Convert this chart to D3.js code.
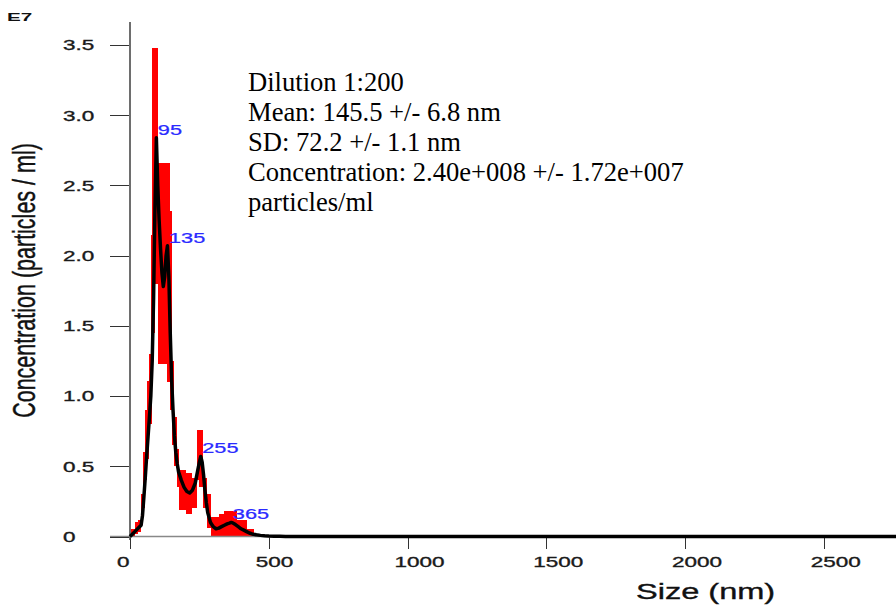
<!DOCTYPE html>
<html>
<head>
<meta charset="utf-8">
<script src="https://cdn.jsdelivr.net/npm/d3@7"></script>
<style>
  html, body { margin: 0; padding: 0; background: #fff; }
  svg { display: block; }
</style>
</head>
<body>
<svg id="chart" width="896" height="605"></svg>
<script>
// Averaged size distribution (black line): size in nm, concentration in units of 1e7 particles/ml
const sizeNm = [0, 10, 20, 30, 40, 45, 50, 55, 60, 65, 70, 75, 80, 85, 90, 95, 100, 105, 110, 115,
  120, 125, 130, 135, 140, 145, 150, 155, 160, 165, 170, 175, 185, 195, 205, 215, 225, 235, 243, 250,
  255, 260, 265, 270, 275, 280, 290, 300, 310, 320, 330, 340, 350, 358, 365, 372, 380, 390, 400, 410,
  420, 430, 440, 455, 470, 485, 500, 520, 540, 560, 1000, 1500, 2000, 2500, 2760];
const meanConc = [0, 0.02, 0.04, 0.06, 0.08, 0.15, 0.28, 0.42, 0.57, 0.71, 0.85, 1.0, 1.25, 1.7, 2.35, 2.84, 2.5, 2.25, 2.05, 1.88,
  1.78, 1.85, 2.0, 2.07, 1.85, 1.45, 1.12, 0.9, 0.72, 0.6, 0.52, 0.46, 0.4, 0.35, 0.32, 0.31, 0.33, 0.38, 0.46, 0.53,
  0.57, 0.53, 0.44, 0.33, 0.24, 0.17, 0.1, 0.07, 0.055, 0.06, 0.07, 0.08, 0.09, 0.095, 0.1, 0.095, 0.085, 0.07, 0.055, 0.045,
  0.035, 0.025, 0.018, 0.012, 0.008, 0.005, 0.003, 0.002, 0.001, 0, 0, 0, 0, 0, 0];

// Error bars (red): bin range in nm and low/high concentration (1e7 particles/ml)
const errFrom = [5, 18, 30, 40, 47, 55, 62, 68, 74, 80, 90, 102, 133, 145, 152, 160, 168, 178, 200, 222, 242, 250, 264, 276, 292, 320, 340, 385, 420, 445];
const errTo   = [18, 30, 40, 47, 55, 62, 68, 78, 80, 90, 102, 133, 145, 152, 160, 168, 178, 200, 222, 242, 250, 264, 276, 292, 320, 340, 385, 420, 445, 470];
const errLow  = [0, 0.02, 0.03, 0.08, 0.2, 0.4, 0.55, 0.8, 1.0, 1.45, 1.8, 1.23, 1.1, 0.9, 0.65, 0.5, 0.35, 0.19, 0.16, 0.2, 0.4, 0.35, 0.2, 0.06, 0, 0, 0, 0, 0, 0];
const errHigh = [0.05, 0.1, 0.12, 0.3, 0.6, 0.9, 1.11, 1.3, 2.15, 3.48, 3.48, 2.66, 2.66, 2.32, 1.25, 0.85, 0.62, 0.47, 0.45, 0.42, 0.755, 0.755, 0.42, 0.3, 0.14, 0.16, 0.185, 0.12, 0.05, 0.02];

// Labelled peak sizes (nm)
const peakSizes = [95, 135, 255, 365];

// Axis ticks
const xTicks = [0, 500, 1000, 1500, 2000, 2500];
const yTicks = [0, 0.5, 1.0, 1.5, 2.0, 2.5, 3.0, 3.5];
const yTickLabels = ["0", "0.5", "1.0", "1.5", "2.0", "2.5", "3.0", "3.5"];

// Summary text block
const infoLines = [
  "Dilution 1:200",
  "Mean: 145.5 +/- 6.8 nm",
  "SD: 72.2 +/- 1.1 nm",
  "Concentration: 2.40e+008 +/- 1.72e+007",
  "particles/ml"
];

const svg = d3.select("#chart");
const SANS = "'Liberation Sans', Arial, sans-serif";
const SERIF = "'Liberation Serif', 'Times New Roman', serif";
const WIDE = 1.5; // horizontal stretch used for the sans labels

const x = d3.scaleLinear().domain([0, 2760]).range([130, 896]);
const y = d3.scaleLinear().domain([0, 3.5]).range([536.5, 45]);

// Error bars
svg.append("g")
  .attr("shape-rendering", "crispEdges")
  .selectAll("rect")
  .data(errFrom.map((f, i) => ({ f, t: errTo[i], lo: errLow[i], hi: errHigh[i] })))
  .join("rect")
  .attr("x", d => x(d.f))
  .attr("width", d => x(d.t) - x(d.f))
  .attr("y", d => y(d.hi))
  .attr("height", d => y(d.lo) - y(d.hi))
  .attr("fill", "#ff0000");

// Axes lines
svg.append("line")
  .attr("x1", 110).attr("x2", 896)
  .attr("y1", y(0)).attr("y2", y(0))
  .attr("stroke", "#888").attr("stroke-width", 1.5);
svg.append("line")
  .attr("x1", x(0)).attr("x2", x(0))
  .attr("y1", 22).attr("y2", 540)
  .attr("stroke", "#6e6e6e").attr("stroke-width", 2);

// Y ticks
const yg = svg.append("g");
yg.selectAll("line")
  .data(yTicks)
  .join("line")
  .attr("x1", 110).attr("x2", x(0) - 1)
  .attr("y1", d => Math.round(y(d)) + 0.5).attr("y2", d => Math.round(y(d)) + 0.5)
  .attr("stroke", "#333").attr("stroke-width", 1);
yg.selectAll("text")
  .data(yTicks)
  .join("text")
  .attr("transform", d => `translate(63,${y(d) + 5.3}) scale(${WIDE},1)`)
  .attr("font-family", SANS).attr("font-size", 15)
  .attr("fill", "#1a1a1a").attr("stroke", "#1a1a1a").attr("stroke-width", 0.35)
  .text((d, i) => yTickLabels[i]);

// X ticks
const xg = svg.append("g");
xg.selectAll("line")
  .data(xTicks)
  .join("line")
  .attr("x1", d => Math.round(x(d)) + 0.5).attr("x2", d => Math.round(x(d)) + 0.5)
  .attr("y1", y(0) + 1).attr("y2", 549)
  .attr("stroke", "#333").attr("stroke-width", 1);
xg.selectAll("text")
  .data(xTicks)
  .join("text")
  .attr("transform", d => `translate(${x(d) - 13},567) scale(${WIDE},1)`)
  .attr("font-family", SANS).attr("font-size", 15)
  .attr("fill", "#1a1a1a").attr("stroke", "#1a1a1a").attr("stroke-width", 0.35)
  .text(d => d3.format("d")(d));

// Mean distribution line
const line = d3.line()
  .x(d => x(d[0]))
  .y(d => y(d[1]));
svg.append("path")
  .datum(sizeNm.map((s, i) => [s, meanConc[i]]))
  .attr("d", line)
  .attr("fill", "none")
  .attr("stroke", "#000")
  .attr("stroke-width", 3.5)
  .attr("stroke-linejoin", "round");

// Peak labels
const concAt = s => {
  const i = sizeNm.indexOf(s);
  if (i >= 0) return meanConc[i];
  const j = d3.bisectLeft(sizeNm, s);
  const t = (s - sizeNm[j - 1]) / (sizeNm[j] - sizeNm[j - 1]);
  return meanConc[j - 1] + t * (meanConc[j] - meanConc[j - 1]);
};
svg.append("g")
  .selectAll("text")
  .data(peakSizes)
  .join("text")
  .attr("transform", d => `translate(${x(d) + 1.5},${y(concAt(d)) - 3}) scale(1.45,1)`)
  .attr("font-family", SANS).attr("font-size", 15)
  .attr("fill", "#2a2aff").attr("stroke", "#2a2aff").attr("stroke-width", 0.25)
  .text(d => d);

// Summary text
svg.append("g")
  .selectAll("text")
  .data(infoLines)
  .join("text")
  .attr("x", 248)
  .attr("y", (d, i) => 90.5 + i * 30.2)
  .attr("font-family", SERIF).attr("font-size", 26.6)
  .attr("fill", "#000")
  .text(d => d);

// Axis titles
svg.append("text")
  .attr("transform", `translate(636,599) scale(1.48,1)`)
  .attr("font-family", SANS).attr("font-size", 22)
  .attr("fill", "#111").attr("stroke", "#111").attr("stroke-width", 0.35)
  .text("Size (nm)");

svg.append("text")
  .attr("transform", `translate(35,280.5) scale(${WIDE},1) rotate(-90)`)
  .attr("text-anchor", "middle")
  .attr("font-family", SANS).attr("font-size", 21.5)
  .attr("fill", "#111").attr("stroke", "#111").attr("stroke-width", 0.3)
  .text("Concentration (particles / ml)");

// Exponent marker
svg.append("text")
  .attr("transform", `translate(7,21) scale(1.8,1)`)
  .attr("font-family", SANS).attr("font-size", 11.5).attr("font-weight", "bold")
  .attr("fill", "#111")
  .text("E7");
</script>
</body>
</html>
